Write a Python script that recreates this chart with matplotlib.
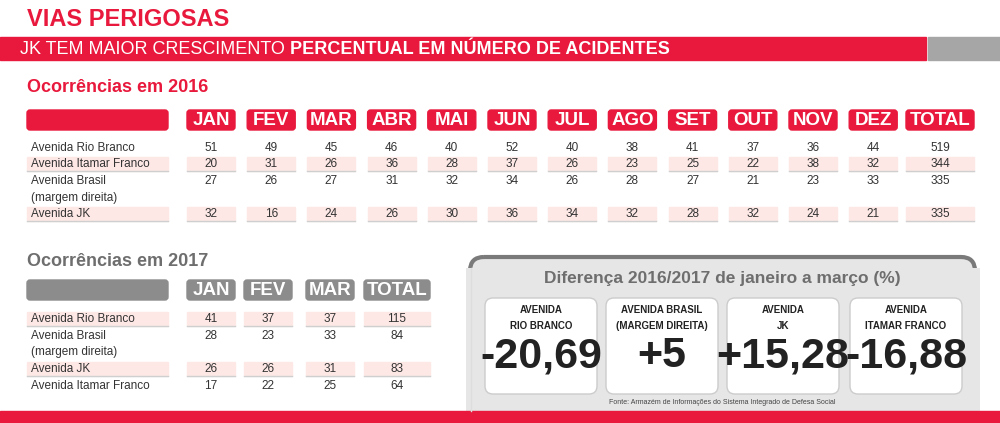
import matplotlib
matplotlib.use("Agg")
import matplotlib.pyplot as plt
from matplotlib.patches import Rectangle, FancyBboxPatch

plt.rcParams['font.family'] = ['Liberation Sans', 'DejaVu Sans']
NARROW = ['Liberation Sans Narrow', 'Liberation Sans', 'DejaVu Sans']

# Dados
meses16 = ['JAN', 'FEV', 'MAR', 'ABR', 'MAI', 'JUN', 'JUL', 'AGO', 'SET', 'OUT', 'NOV', 'DEZ', 'TOTAL']
vias16 = ['Avenida Rio Branco', 'Avenida Itamar Franco', 'Avenida Brasil\n(margem direita)', 'Avenida JK']
valores16 = [
    [51, 49, 45, 46, 40, 52, 40, 38, 41, 37, 36, 44, 519],
    [20, 31, 26, 36, 28, 37, 26, 23, 25, 22, 38, 32, 344],
    [27, 26, 27, 31, 32, 34, 26, 28, 27, 21, 23, 33, 335],
    [32, 16, 24, 26, 30, 36, 34, 32, 28, 32, 24, 21, 335],
]
meses17 = ['JAN', 'FEV', 'MAR', 'TOTAL']
vias17 = ['Avenida Rio Branco', 'Avenida Brasil\n(margem direita)', 'Avenida JK', 'Avenida Itamar Franco']
valores17 = [
    [41, 37, 37, 115],
    [28, 23, 33, 84],
    [26, 26, 31, 83],
    [17, 22, 25, 64],
]
dif_vias = ['AVENIDA\nRIO BRANCO', 'AVENIDA BRASIL\n(MARGEM DIREITA)', 'AVENIDA\nJK', 'AVENIDA\nITAMAR FRANCO']
dif_valores = ['-20,69', '+5', '+15,28', '-16,88']

RED = '#E8193C'
PINK = '#FDE8E6'
GRAY = '#8C8C8C'
TXT = '#333333'

fig = plt.figure(figsize=(10, 4.23), dpi=100)
ax = fig.add_axes([0, 0, 1, 1])
ax.set_xlim(0, 1000)
ax.set_ylim(423, 0)
ax.axis('off')

# Cabeçalho
ax.text(27, 19, 'VIAS PERIGOSAS', color=RED, fontsize=17, fontweight='bold', va='center')
ax.add_patch(Rectangle((0, 37), 926, 23, color=RED))
ax.add_patch(Rectangle((928, 37), 72, 23, color='#A6A6A6'))
t = ax.text(20, 49, 'JK TEM MAIOR CRESCIMENTO ', color='white', fontsize=13, va='center')
ax.annotate('PERCENTUAL EM NÚMERO DE ACIDENTES', xycoords=t, xy=(1, 0.5), va='center',
            color='white', fontsize=13, fontweight='bold')


def tabela(x_cols, largs, meses, vias, valores, y_head, ys, cor, sombreadas):
    ax.add_patch(FancyBboxPatch((27, y_head), 141, 20, boxstyle='round,pad=0,rounding_size=3', color=cor))
    for xc, w, m in zip(x_cols, largs, meses):
        ax.add_patch(FancyBboxPatch((xc - w / 2, y_head), w, 20, boxstyle='round,pad=0,rounding_size=3', color=cor))
        ax.text(xc, y_head + 10.5, m, color='white', fontsize=13.5, fontweight='bold', ha='center', va='center')
    for i, (via, vals, y) in enumerate(zip(vias, valores, ys)):
        if i in sombreadas:
            ax.add_patch(Rectangle((27, y - 7), 141, 14, color=PINK))
            ax.plot([27, 168], [y + 7, y + 7], color='#cfcfcf', lw=1)
            for xc, w in zip(x_cols, largs):
                ax.add_patch(Rectangle((xc - w / 2, y - 7), w, 14, color=PINK))
                ax.plot([xc - w / 2, xc + w / 2], [y + 7, y + 7], color='#cfcfcf', lw=1)
        linhas = via.split('\n')
        for k, l in enumerate(linhas):
            ax.text(31, y + 16.5 * k, l, color=TXT, fontsize=8.5, va='center')
        for xc, v in zip(x_cols, vals):
            ax.text(xc, y, str(v), color=TXT, fontsize=8.5, ha='center', va='center')


# Tabela 2016
ax.text(27, 88, 'Ocorrências em 2016', color=RED, fontsize=13, fontweight='bold', va='center')
x16 = [211 + 60.2 * i for i in range(12)] + [940]
w16 = [48] * 12 + [68]
tabela(x16, w16, meses16, vias16, valores16, 110, [148, 164, 181, 214], RED, [1, 3])

# Tabela 2017
ax.text(27, 262, 'Ocorrências em 2017', color='#6E6E6E', fontsize=13, fontweight='bold', va='center')
x17 = [211, 268, 330, 397]
w17 = [48, 48, 48, 66]
tabela(x17, w17, meses17, vias17, valores17, 280, [319, 336, 369, 386], GRAY, [0, 2])

# Painel de diferença
ax.add_patch(FancyBboxPatch((470, 257), 505, 175, boxstyle='round,pad=0,rounding_size=14',
                            facecolor='#E6E6E6', edgecolor='none'))
ax.add_patch(FancyBboxPatch((470, 257), 505, 175, boxstyle='round,pad=0,rounding_size=14',
                            facecolor='none', edgecolor='#7a7a7a', lw=3, clip_on=True))
ax.add_patch(Rectangle((466, 268), 514, 160, facecolor='#E6E6E6', edgecolor='none'))
ax.plot([470.5, 470.5], [268, 411], color='#dddddd', lw=1)
ax.text(722, 278, 'Diferença 2016/2017 de janeiro a março (%)', color='#6E6E6E', fontsize=12.5,
        fontweight='bold', ha='center', va='center')
bx = [485, 606, 727, 850]
for x0, nome, val in zip(bx, dif_vias, dif_valores):
    ax.add_patch(FancyBboxPatch((x0, 298), 112, 96, boxstyle='round,pad=0,rounding_size=8',
                                facecolor='white', edgecolor='#cccccc', lw=1))
    ax.text(x0 + 56, 318, nome, color='#222222', fontsize=7, fontweight='bold', ha='center',
            va='center', linespacing=1.7, family=NARROW)
    ax.text(x0 + 56, 356, val, color='#222222', fontsize=31, fontweight='bold', ha='center',
            va='center', family=NARROW)
ax.text(722, 402, 'Fonte: Armazém de Informações do Sistema Integrado de Defesa Social',
        color='#444444', fontsize=5, ha='center', va='center')

ax.add_patch(Rectangle((0, 411), 1000, 12, color=RED))

fig.savefig('out.png', dpi=100)
